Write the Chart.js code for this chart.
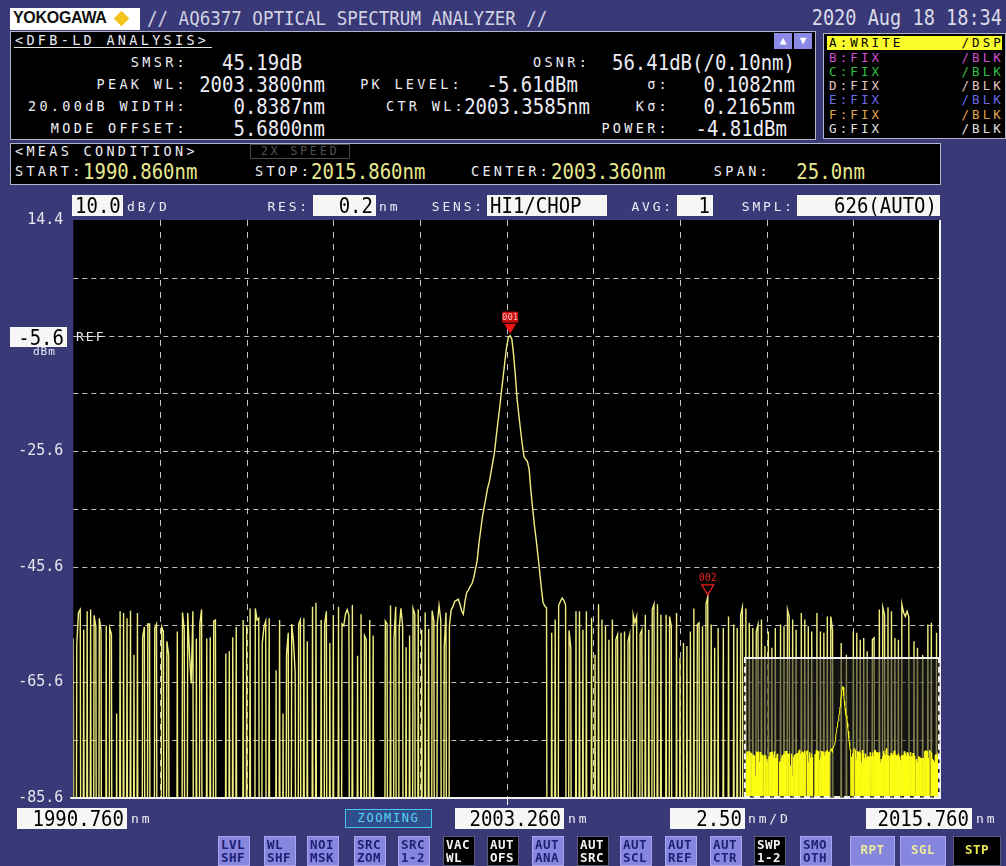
<!DOCTYPE html>
<html>
<head>
<meta charset="utf-8">
<title>AQ6377 DFB-LD analysis</title>
<script src="https://cdn.jsdelivr.net/npm/chart.js@4.4.1/dist/chart.umd.min.js"></script>
<style>
  html, body { margin: 0; padding: 0; }
  body { width: 1006px; height: 866px; position: relative; overflow: hidden;
         background: #393977; color: #ececf4; font-family: "DejaVu Sans Mono", monospace; }
  .t { position: absolute; white-space: pre; height: 20px; line-height: 20px; }
  .v { font-size: 19px; transform: scaleY(1.15); }
  .lb { font-size: 13.5px; letter-spacing: 3.3px; }
  .sm { font-size: 13px; letter-spacing: 2.8px; }
  .panel { position: absolute; background: #000; border: 1px solid #b4b4c8; box-sizing: border-box; }
  .wb { position: absolute; background: #f6f6f6; color: #000; height: 21px; line-height: 21px;
        font-size: 19px; padding: 0 3px; box-sizing: border-box; text-align: right; white-space: pre; }
  .wb span { display: inline-block; transform: scaleY(1.12); }
  .tr { position: absolute; white-space: pre; height: 20px; line-height: 20px; font-size: 12.5px; letter-spacing: 3.1px; }
  .btn { position: absolute; top: 836px; width: 32px; height: 30px; box-sizing: border-box;
         background: #8686de; color: #1e1e72; border: 1px solid #a6a6f2; white-space: pre;
         font-size: 12.5px; line-height: 12.5px; font-weight: bold; letter-spacing: 0.5px;
         text-align: left; padding: 2px 0 0 2px; }
  .btn.on { background: #000; color: #f4f4f4; border-color: #5a5a7a; }
  .btn.big { line-height: 26px; padding: 0; text-align: center; color: #ecec9c; }
  #plotWrap { position: absolute; left: 0; top: 210px; width: 946px; height: 600px; }
  #insetWrap { position: absolute; left: 744px; top: 657px; width: 196px; height: 141px; box-sizing: border-box;
               border: 2px dashed #f0f0f0; border-top-style: solid; background: rgba(34,34,34,0.55); }
  #insetWrap canvas { position: absolute; left: 0; top: 0; }
</style>
</head>
<body>

<div id="plotWrap"><canvas id="osa" width="946" height="600"></canvas></div>

<!-- title bar -->
<div style="position:absolute;left:10px;top:8px;width:130px;height:22px;background:#fff"></div>
<div class="t" style="left:13px;top:9px;font:bold 16px 'Liberation Sans',sans-serif;color:#111;letter-spacing:-0.3px">YOKOGAWA</div>
<div style="position:absolute;left:116px;top:13px;width:11px;height:11px;background:#f2c51c;transform:rotate(45deg)"></div>
<div class="t v" style="left:147px;top:8px;font-size:17.5px;color:#d2d2e2">// AQ6377 OPTICAL SPECTRUM ANALYZER //</div>
<div class="t v" style="right:4px;top:8px;font-size:18.6px;color:#dadae8">2020 Aug 18 18:34</div>

<!-- DFB-LD analysis panel -->
<div class="panel" style="left:10px;top:31px;width:806px;height:109px"></div>
<div class="t lb" style="left:15px;top:30px">&lt;DFB-LD ANALYSIS&gt;</div>
<div style="position:absolute;left:14px;top:47px;width:198px;height:1px;background:#e4e4e4"></div>
<div style="position:absolute;left:774px;top:33px;width:18px;height:16px;background:#8a8ae6;color:#fff;font-size:11px;line-height:16px;text-align:center">▲</div>
<div style="position:absolute;left:794px;top:33px;width:18px;height:16px;background:#8a8ae6;color:#fff;font-size:11px;line-height:16px;text-align:center">▼</div>

<div class="t lb" style="right:818px;top:52px">SMSR:</div>
<div class="t lb" style="right:818px;top:74px">PEAK WL:</div>
<div class="t lb" style="right:818px;top:96px">20.00dB WIDTH:</div>
<div class="t lb" style="right:818px;top:118px">MODE OFFSET:</div>
<div class="t v" style="left:222px;top:52px">45.19dB</div>
<div class="t v" style="right:681px;top:74px">2003.3800nm</div>
<div class="t v" style="right:681px;top:96px">0.8387nm</div>
<div class="t v" style="right:681px;top:118px">5.6800nm</div>

<div class="t lb" style="right:543px;top:74px">PK LEVEL:</div>
<div class="t v" style="right:428px;top:74px">-5.61dBm</div>
<div class="t lb" style="right:540px;top:96px">CTR WL:</div>
<div class="t v" style="right:416px;top:96px">2003.3585nm</div>

<div class="t lb" style="left:533px;top:52px">OSNR:</div>
<div class="t v" style="right:211px;top:52px">56.41dB(/0.10nm)</div>
<div class="t lb" style="right:336px;top:74px">σ:</div>
<div class="t v" style="right:211px;top:74px">0.1082nm</div>
<div class="t lb" style="right:336px;top:96px">Kσ:</div>
<div class="t v" style="right:211px;top:96px">0.2165nm</div>
<div class="t lb" style="right:336px;top:118px">POWER:</div>
<div class="t v" style="right:219px;top:118px">-4.81dBm</div>

<!-- trace list -->
<div class="panel" style="left:823px;top:33px;width:183px;height:106px"></div>
<div style="position:absolute;left:827px;top:36px;width:175px;height:14px;background:#fcfc2c"></div>
<div class="tr" style="left:829px;top:33px;color:#000">A:WRITE</div>
<div class="tr" style="right:2px;top:33px;color:#000">/DSP</div>
<div class="tr" style="left:829px;top:47.5px;color:#d050d0">B:FIX</div>
<div class="tr" style="right:2px;top:47.5px;color:#d050d0">/BLK</div>
<div class="tr" style="left:829px;top:61.5px;color:#30c040">C:FIX</div>
<div class="tr" style="right:2px;top:61.5px;color:#30c040">/BLK</div>
<div class="tr" style="left:829px;top:76px;color:#e8c8c0">D:FIX</div>
<div class="tr" style="right:2px;top:76px;color:#e8c8c0">/BLK</div>
<div class="tr" style="left:829px;top:90px;color:#6a6aea">E:FIX</div>
<div class="tr" style="right:2px;top:90px;color:#6a6aea">/BLK</div>
<div class="tr" style="left:829px;top:104.5px;color:#e0a848">F:FIX</div>
<div class="tr" style="right:2px;top:104.5px;color:#e0a848">/BLK</div>
<div class="tr" style="left:829px;top:119px;color:#e2e2e2">G:FIX</div>
<div class="tr" style="right:2px;top:119px;color:#e2e2e2">/BLK</div>

<!-- measurement condition -->
<div class="panel" style="left:10px;top:143px;width:931px;height:42px"></div>
<div class="t lb" style="left:15px;top:141px">&lt;MEAS CONDITION&gt;</div>
<div style="position:absolute;left:250px;top:144px;width:100px;height:15px;box-sizing:border-box;border:1px solid #4a4a4a;color:#505050;font-size:12px;letter-spacing:2.6px;line-height:13px;text-align:center">2X SPEED</div>
<div class="t lb" style="left:15px;top:161px">START:</div>
<div class="t v" style="left:83px;top:161px;color:#e8e88e">1990.860nm</div>
<div class="t lb" style="left:255px;top:161px">STOP:</div>
<div class="t v" style="left:311px;top:161px;color:#e8e88e">2015.860nm</div>
<div class="t lb" style="right:455px;top:161px">CENTER:</div>
<div class="t v" style="left:551px;top:161px;color:#e8e88e">2003.360nm</div>
<div class="t lb" style="right:235px;top:161px">SPAN:</div>
<div class="t v" style="right:141px;top:161px;color:#e8e88e">25.0nm</div>

<!-- plot header -->
<div class="wb" style="left:72px;top:195px;width:51px"><span>10.0</span></div>
<div class="t sm" style="left:127px;top:197px">dB/D</div>
<div class="t sm" style="right:696px;top:197px">RES:</div>
<div class="wb" style="left:313px;top:195px;width:63px"><span>0.2</span></div>
<div class="t sm" style="left:379px;top:197px">nm</div>
<div class="t sm" style="right:521px;top:197px">SENS:</div>
<div class="wb" style="left:487px;top:195px;width:120px;text-align:left"><span>HI1/CHOP</span></div>
<div class="t sm" style="right:332px;top:197px">AVG:</div>
<div class="wb" style="left:677px;top:195px;width:36px"><span>1</span></div>
<div class="t sm" style="right:211px;top:197px">SMPL:</div>
<div class="wb" style="left:797px;top:195px;width:143px"><span>626(AUTO)</span></div>

<!-- reference level -->
<div class="wb" style="left:10px;top:327px;width:57px;height:20px;line-height:20px"><span>-5.6</span></div>
<div class="t sm" style="left:76px;top:327px;letter-spacing:2px">REF</div>
<div class="t" style="left:33px;top:345px;height:14px;line-height:14px;font-size:11px;letter-spacing:1px">dBm</div>

<!-- overview inset -->
<div id="insetWrap"><canvas id="overview" width="192" height="137"></canvas></div>

<!-- bottom scale row -->
<div class="wb" style="left:17px;top:808px;width:110px"><span>1990.760</span></div>
<div class="t sm" style="left:131px;top:809px">nm</div>
<div style="position:absolute;left:345px;top:809px;width:87px;height:19px;box-sizing:border-box;border:1px solid #46c4e6;background:#2e4d8a;color:#58d4f4;font-size:12px;letter-spacing:1.6px;line-height:17px;text-align:center">ZOOMING</div>
<div class="wb" style="left:455px;top:808px;width:109px"><span>2003.260</span></div>
<div class="t sm" style="left:568px;top:809px">nm</div>
<div class="wb" style="left:670px;top:808px;width:75px"><span>2.50</span></div>
<div class="t sm" style="left:748px;top:809px">nm/D</div>
<div class="wb" style="left:866px;top:808px;width:106px"><span>2015.760</span></div>
<div class="t sm" style="left:976px;top:809px">nm</div>

<!-- soft keys -->
<div class="btn" style="left:218px">LVL
SHF</div>
<div class="btn" style="left:264px">WL
SHF</div>
<div class="btn" style="left:307px">NOI
MSK</div>
<div class="btn" style="left:354px">SRC
ZOM</div>
<div class="btn" style="left:398px">SRC
1-2</div>
<div class="btn on" style="left:443px">VAC
WL</div>
<div class="btn on" style="left:487px">AUT
OFS</div>
<div class="btn" style="left:532px">AUT
ANA</div>
<div class="btn on" style="left:577px">AUT
SRC</div>
<div class="btn" style="left:620px">AUT
SCL</div>
<div class="btn" style="left:665px">AUT
REF</div>
<div class="btn" style="left:710px">AUT
CTR</div>
<div class="btn on" style="left:754px">SWP
1-2</div>
<div class="btn" style="left:800px">SMO
OTH</div>
<div class="btn big" style="left:850px;width:45px">RPT</div>
<div class="btn big" style="left:900px;width:46px">SGL</div>
<div class="btn big on" style="left:953px;width:48px;color:#e8e850">STP</div>

<script>
// sweep grid of the instrument (display span 1990.760 .. 2015.760 nm)
const START_WL = 1990.76;
const STOP_WL = 2015.76;
const WL_STEP = 0.05;
const LEVEL_TOP = 14.4;
const LEVEL_BOTTOM = -85.6;
const LO = -210; // below sensitivity, the OSA reports -210 dBm

const wlTicks = [1990.76, 1993.26, 1995.76, 1998.26, 2000.76, 2003.26,
  2005.76, 2008.26, 2010.76, 2013.26, 2015.76];
const levelTicks = [-85.6, -75.6, -65.6, -55.6, -45.6, -35.6, -25.6, -15.6, -5.6, 4.4, 14.4];
const levelTickLabels = ['-85.6', '', '-65.6', '', '-45.6', '', '-25.6', '', '', '', '14.4'];

const markerIndex = [252, 366];
const markerNames = ['001', '002'];

// trace A, dBm, left noise floor
const levelA = [
  -58.0, LO, -59.0, -53.5, -53.0, LO, -56.5, LO, -53.3, LO,
  -53.0, LO, -54.0, -56.0, LO, -54.5, -56.5, LO, LO, -55.8,
  LO, -56.2, -57.3, LO, LO, -71.0, LO, -53.3, LO, -53.6,
  LO, -54.5, LO, -53.2, LO, -60.8, LO, -53.6, LO, LO,
  -57.8, -56.0, LO, -55.5, -55.5, LO, LO, -56.2, -55.5, LO,
  LO, -56.0, -56.8, LO, -58.5, -60.8, LO, LO, LO, LO,
  -56.8, LO, LO, -53.5, -56.5, LO, -53.6, -60.5, -65.8, -53.3,
  LO, -58.0, LO, -55.5, -53.0, LO, LO, -58.0, LO, -57.8,
  LO, -55.0, -54.8, LO, LO, LO, LO, LO, -60.6, LO,
  -60.2, LO, -57.8, LO, -56.0, LO, LO, LO, -54.8, LO,
  -55.8, LO, -52.8, LO, LO, -52.8, -54.8, -54.5, LO, -58.8
];
const levelB = [
  -56.0, -55.0, LO, -54.5, LO, LO, LO, -63.5, LO, -54.8,
  LO, -71.0, LO, -60.8, -57.0, LO, -55.5, -58.5, -63.8, LO,
  -55.5, -54.8, LO, -54.5, LO, -58.5, LO, LO, -52.5, LO,
  -51.8, LO, LO, -54.8, LO, -55.5, -53.3, LO, -58.8, LO,
  -54.0, LO, LO, -52.5, LO, -55.5, -55.8, -53.8, -53.0, -54.0,
  LO, -52.2, LO, LO, -61.0, LO, -53.8, LO, -57.5, -58.2,
  LO, -54.8, LO, -57.5, LO, LO, LO, LO, LO, LO,
  -55.0, -55.5, LO, -52.3, LO, -58.0, -52.5, LO, -56.5, -52.8,
  -55.8, LO, -59.5, LO, -57.5, LO, -52.8, -53.8, LO, -53.0,
  LO, -56.5, LO, -53.5, LO, -56.3, LO, -53.2, -55.0, LO,
  -55.5, -52.3, -54.8, LO, -59.5, -53.5, LO, -55.8, -53.0
];
// DFB main mode
const levelPeak = [
  -52.5, -51.6, -51.4, -51.2, -52.0, -53.2, -53.8, -51.5, -50.0, -49.6,
  -49.0, -48.5, -47.5, -46.0, -44.5, -41.6, -39.3, -37.0, -35.3, -33.7,
  -32.0, -30.9, -29.2, -27.5, -25.8, -23.0, -20.5, -18.0, -15.3, -12.7,
  -10.0, -7.5, -5.9, -5.61, -6.2, -8.9, -12.4, -16.5, -19.2, -21.9,
  -24.4, -26.5, -27.0, -27.4, -28.8, -32.5, -35.5, -38.4, -40.8, -43.5,
  -46.3, -49.2, -51.8, -52.4, -52.7
];
// right noise floor, side mode at 2009.06 nm
const levelC = [
  LO, LO, -57.0, LO, -54.7, LO, -52.3, -51.6, -51.0, -51.4,
  -52.2, LO, -56.6, -59.6, LO, LO, -53.3, LO, -53.3, LO,
  -56.5, LO, -53.3, LO, LO, -54.4, LO, -60.8, LO, -52.1,
  LO, -54.7, LO, -55.9, LO, -58.2, LO, -54.7, LO, -58.2,
  -57.3, LO, -57.0, LO, -56.8, LO, -58.5, -57.3, LO, -53.9,
  -55.3, -54.2, LO, -57.3, -56.5, LO, -53.9, LO, -56.5, LO,
  -53.0, -52.1, LO, -52.1, LO, -53.9, LO, LO, -53.9, LO,
  -54.2, -55.9, LO, LO, -53.6, LO, -61.4, LO, -58.8, LO,
  -59.3, LO, -56.8, LO, -52.8, LO, -55.6, -55.3, LO, -55.9,
  LO, -52.1, -50.8, LO, -55.6, LO, -59.6, LO, -56.2, LO,
  LO, -56.2, LO, LO, -54.2, LO, LO, -55.6, LO, -56.2,
  LO, -53.9, -52.6, LO
];
const levelD = [
  -52.8, LO, -55.3, LO, -56.2, LO, -56.8, -55.6, LO, -54.7,
  LO, -59.3, LO, -56.8, LO, -59.6, LO, -56.2, LO, LO,
  -55.6, LO, -55.9, LO, -53.0, -54.2, LO, -54.7, LO, -56.5,
  LO, LO, -53.6, LO, -54.7, LO, -55.9, LO, -56.8, LO,
  LO, -53.6, LO, -56.8, LO, -57.0, LO, -54.2, LO, -54.2,
  -56.5, LO, LO, LO, LO, -58.8, LO, LO, -60.8, LO,
  LO, LO, -56.8, LO, -57.0, LO, -58.2, LO, -57.9, LO,
  -60.2, LO, LO, -58.2, -57.9, LO, LO, -53.0, LO, -52.6,
  -53.9, LO, -52.6, LO, -53.3, LO, -57.9, LO, -58.2, LO,
  -52.1, -53.5, -54.2, -53.3, -54.2, LO, LO, -58.5, LO, -59.6,
  LO, LO, -60.8, LO, LO, -55.6, LO, -55.3, LO, LO,
  -57.0, LO, -53.3
];

const traceLevels = [].concat(levelA, levelB, levelPeak, levelC, levelD);
const tracePoints = traceLevels.map((level, i) => ({ x: START_WL + i * WL_STEP, y: level }));

// black screen, dashed grid, white frame and the two peak markers
const osaScreen = {
  id: 'osaScreen',
  beforeDraw(chart) {
    const { ctx, chartArea: a } = chart;
    ctx.save();
    ctx.fillStyle = '#000';
    ctx.fillRect(a.left, a.top, a.right - a.left, a.bottom - a.top);
    ctx.restore();
  },
  beforeDatasetsDraw(chart) {
    const { ctx, chartArea: a, scales: { x, y } } = chart;
    ctx.save();
    ctx.strokeStyle = 'rgba(214,214,214,0.9)';
    ctx.lineWidth = 1;
    ctx.setLineDash([6, 6]);
    wlTicks.slice(1, -1).forEach((v) => {
      const px = Math.round(x.getPixelForValue(v)) + 0.5;
      ctx.beginPath();
      ctx.moveTo(px, a.top);
      ctx.lineTo(px, a.bottom);
      ctx.stroke();
    });
    ctx.setLineDash([5, 4]);
    levelTicks.slice(1, -1).forEach((v) => {
      const py = Math.round(y.getPixelForValue(v)) + 0.5;
      ctx.beginPath();
      ctx.moveTo(a.left, py);
      ctx.lineTo(a.right, py);
      ctx.stroke();
    });
    ctx.restore();
  },
  afterDatasetsDraw(chart) {
    const { ctx, chartArea: a, scales: { x } } = chart;
    ctx.save();
    ctx.strokeStyle = '#f2f2f2';
    ctx.lineWidth = 2;
    ctx.beginPath();
    ctx.moveTo(a.left - 3, a.bottom);
    ctx.lineTo(a.right, a.bottom);
    ctx.lineTo(a.right, a.top);
    ctx.stroke();
    const cx = Math.round(x.getPixelForValue(wlTicks[5])) + 0.5;
    ctx.lineWidth = 1;
    ctx.beginPath();
    ctx.moveTo(cx, a.bottom);
    ctx.lineTo(cx, a.bottom + 7);
    ctx.stroke();

    const meta = chart.getDatasetMeta(0);
    markerIndex.forEach((idx, k) => {
      const pt = meta.data[idx];
      const px = pt.x;
      const py = pt.y;
      ctx.beginPath();
      ctx.moveTo(px, py - 2);
      ctx.lineTo(px - 6, py - 12);
      ctx.lineTo(px + 6, py - 12);
      ctx.closePath();
      ctx.font = '9px "DejaVu Sans Mono"';
      ctx.textAlign = 'center';
      ctx.textBaseline = 'middle';
      if (k === 0) {
        ctx.fillStyle = '#f01414';
        ctx.fill();
        ctx.fillStyle = '#c81010';
        ctx.fillRect(px - 8, py - 24, 16, 11);
        ctx.fillStyle = '#ffb4b4';
      } else {
        ctx.strokeStyle = '#f02020';
        ctx.lineWidth = 1.2;
        ctx.stroke();
        ctx.font = '10px "DejaVu Sans Mono"';
        ctx.fillStyle = '#ee2222';
      }
      ctx.fillText(markerNames[k], px, py - 18);
    });
    ctx.restore();
  }
};

new Chart(document.getElementById('osa'), {
  type: 'line',
  data: {
    datasets: [{
      data: tracePoints,
      borderColor: '#f0ee80',
      borderWidth: 1.4,
      pointRadius: 0,
      tension: 0
    }]
  },
  options: {
    responsive: false,
    animation: false,
    events: [],
    layout: { padding: { top: 10, right: 6, bottom: 12, left: 0 } },
    plugins: { legend: { display: false }, tooltip: { enabled: false } },
    scales: {
      x: { type: 'linear', display: false, min: START_WL, max: STOP_WL },
      y: {
        type: 'linear',
        min: LEVEL_BOTTOM,
        max: LEVEL_TOP,
        afterBuildTicks: (axis) => { axis.ticks = levelTicks.map((v) => ({ value: v })); },
        afterFit: (axis) => {
          axis.width = 73.3;
          axis.paddingTop = 0;
          axis.paddingBottom = 0;
        },
        grid: { display: false, drawTicks: false },
        border: { display: false },
        ticks: {
          color: '#e6e6ee',
          padding: 10,
          font: { family: 'DejaVu Sans Mono', size: 15 },
          callback: (value, index) => levelTickLabels[index]
        }
      }
    }
  },
  plugins: [osaScreen]
});

// overview window: the whole sweep, compressed
new Chart(document.getElementById('overview'), {
  type: 'line',
  data: {
    datasets: [{
      data: tracePoints,
      borderColor: '#ffff14',
      borderWidth: 1,
      pointRadius: 0,
      tension: 0
    }]
  },
  options: {
    responsive: false,
    animation: false,
    events: [],
    layout: { padding: 0 },
    plugins: { legend: { display: false }, tooltip: { enabled: false } },
    scales: {
      x: { type: 'linear', display: false, min: START_WL, max: STOP_WL },
      y: { type: 'linear', display: false, min: LEVEL_BOTTOM, max: LEVEL_TOP }
    }
  }
});
</script>
</body>
</html>
